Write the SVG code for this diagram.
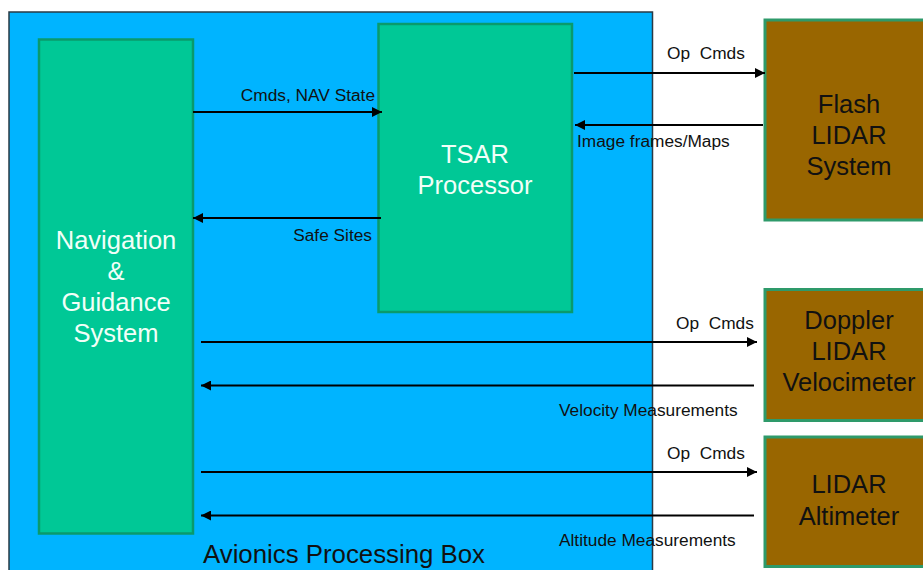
<svg xmlns="http://www.w3.org/2000/svg" width="923" height="570" viewBox="0 0 923 570">
  <style>
    .unit { fill: #00c896; stroke: #0a9a6c; stroke-width: 2.5; }
    .sensor { fill: #996600; stroke: #2e9a6a; stroke-width: 3; }
    .big { font-family: "Liberation Sans", Arial, sans-serif; font-size: 25.5px; text-anchor: middle; }
    .light { fill: #f2fff8; }
    .dark { fill: #111111; }
    .lbl { font-family: "Liberation Sans", Arial, sans-serif; font-size: 17.3px; fill: #111111; }
    .end { text-anchor: end; }
    .wire { stroke: #000000; stroke-width: 2; fill: none; }
  </style>
  <defs>
    <marker id="arrow" viewBox="0 0 10 10" refX="10" refY="5" markerWidth="5.5" markerHeight="5" markerUnits="strokeWidth" orient="auto">
      <path d="M0,0 L10,5 L0,10 z" fill="#000000"/>
    </marker>
  </defs>

  <rect width="923" height="570" fill="#ffffff"/>

  <!-- Enclosing avionics box -->
  <g id="avionics-box">
    <rect x="9" y="12" width="643.5" height="570" fill="#00b4ff" stroke="#2a3a44" stroke-width="1.5"/>
    <text x="203" y="563" font-family="&quot;Liberation Sans&quot;, Arial, sans-serif" font-size="25.8" fill="#111111">Avionics Processing Box</text>
  </g>

  <g id="nav-guidance">
    <rect class="unit" x="39" y="39.5" width="154" height="494"/>
    <text class="big light" x="116" y="249">Navigation</text>
    <text class="big light" x="116" y="280">&amp;</text>
    <text class="big light" x="116" y="311">Guidance</text>
    <text class="big light" x="116" y="342">System</text>
  </g>

  <g id="tsar-processor">
    <rect class="unit" x="378.5" y="24" width="193.5" height="288"/>
    <text class="big light" x="475" y="163">TSAR</text>
    <text class="big light" x="475" y="194">Processor</text>
  </g>

  <g id="flash-lidar">
    <rect class="sensor" x="765" y="20" width="170" height="200"/>
    <text class="big dark" x="849" y="113">Flash</text>
    <text class="big dark" x="849" y="144">LIDAR</text>
    <text class="big dark" x="849" y="175">System</text>
  </g>

  <g id="doppler-lidar">
    <rect class="sensor" x="765" y="289.5" width="170" height="131"/>
    <text class="big dark" x="849" y="329">Doppler</text>
    <text class="big dark" x="849" y="360">LIDAR</text>
    <text class="big dark" x="849" y="391">Velocimeter</text>
  </g>

  <g id="lidar-altimeter">
    <rect class="sensor" x="765" y="437" width="170" height="129.5"/>
    <text class="big dark" x="849" y="493">LIDAR</text>
    <text class="big dark" x="849" y="525">Altimeter</text>
  </g>

  <g id="connectors">
    <line class="wire" x1="193" y1="112" x2="382" y2="112" marker-end="url(#arrow)"/>
    <text class="lbl end" x="375" y="101">Cmds, NAV State</text>

    <line class="wire" x1="381" y1="218" x2="193" y2="218" marker-end="url(#arrow)"/>
    <text class="lbl end" x="372" y="241">Safe Sites</text>

    <line class="wire" x1="574" y1="73" x2="765" y2="73" marker-end="url(#arrow)"/>
    <text class="lbl" x="667" y="59" xml:space="preserve">Op  Cmds</text>

    <line class="wire" x1="763" y1="125" x2="575" y2="125" marker-end="url(#arrow)"/>
    <text class="lbl" x="577" y="147">Image frames/Maps</text>

    <line class="wire" x1="201" y1="342" x2="757" y2="342" marker-end="url(#arrow)"/>
    <text class="lbl" x="676" y="329" xml:space="preserve">Op  Cmds</text>

    <line class="wire" x1="754" y1="385.5" x2="201" y2="385.5" marker-end="url(#arrow)"/>
    <text class="lbl" x="559" y="416">Velocity Measurements</text>

    <line class="wire" x1="201" y1="472" x2="757" y2="472" marker-end="url(#arrow)"/>
    <text class="lbl" x="667" y="459" xml:space="preserve">Op  Cmds</text>

    <line class="wire" x1="754" y1="515.5" x2="201" y2="515.5" marker-end="url(#arrow)"/>
    <text class="lbl" x="559" y="546">Altitude Measurements</text>
  </g>
</svg>
